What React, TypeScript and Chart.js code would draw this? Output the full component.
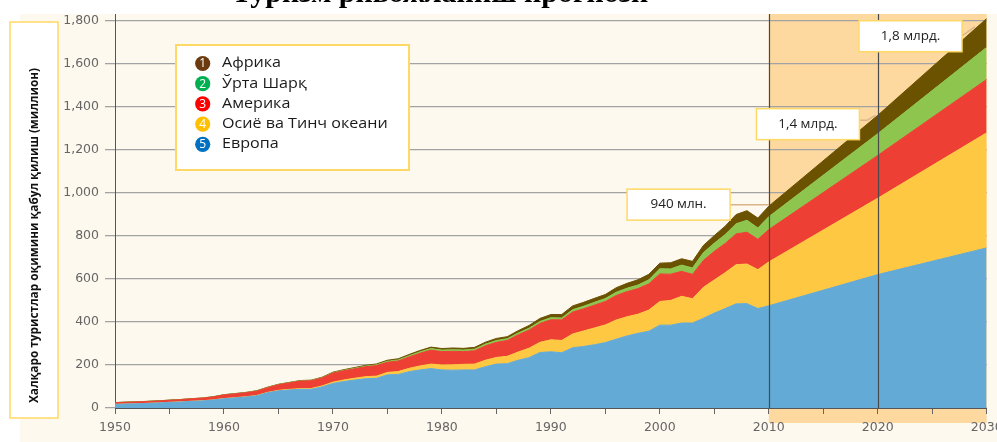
import { useEffect, useRef } from 'react';
import { Chart, registerables } from 'chart.js';

Chart.register(...registerables);

// ---------- data (millions of international tourist arrivals) ----------
const years = [
  1950, 1951, 1952, 1953, 1954, 1955, 1956, 1957, 1958, 1959,
  1960, 1961, 1962, 1963, 1964, 1965, 1966, 1967, 1968, 1969,
  1970, 1971, 1972, 1973, 1974, 1975, 1976, 1977, 1978, 1979,
  1980, 1981, 1982, 1983, 1984, 1985, 1986, 1987, 1988, 1989,
  1990, 1991, 1992, 1993, 1994, 1995, 1996, 1997, 1998, 1999,
  2000, 2001, 2002, 2003, 2004, 2005, 2006, 2007, 2008, 2009,
  2010, 2020, 2030,
];

const europe = [
  16.8, 18.5, 19.5, 21.5, 23.5, 26, 28, 31, 33, 37,
  43, 47, 51, 57, 71, 80, 84, 87, 87, 98,
  114, 123, 130, 136, 138, 154, 156, 169, 177, 183,
  177, 176, 177, 177, 192, 204, 206, 222, 234, 258,
  261, 257, 280, 286, 294, 304, 320, 335, 347, 357,
  385, 385, 395, 395, 417, 441, 462, 484, 485, 462,
  475, 620, 744,
];

const asiaPacific = [
  0.2, 0.2, 0.3, 0.3, 0.3, 0.4, 0.5, 0.5, 0.6, 0.7,
  0.9, 1.0, 1.2, 1.4, 1.6, 2.1, 2.6, 3.0, 3.6, 4.6,
  6.2, 7.2, 8.4, 9.5, 10.2, 11.5, 13.5, 15.5, 18.5, 21,
  23, 24.5, 26, 27, 30, 31, 34, 38, 44, 47,
  56, 57, 64, 72, 78, 82, 89, 89, 89, 98,
  110, 115, 124, 113, 144, 154, 167, 182, 184, 181,
  204, 355, 535,
];

const americas = [
  7.5, 8.0, 8.2, 8.6, 9.0, 9.5, 10.2, 11, 12, 13.5,
  16.7, 17.5, 18.5, 20, 22, 26, 30, 35, 36, 37,
  42, 43, 44, 46, 49, 47, 49, 53, 59, 65,
  62, 63, 59, 62, 67, 70, 74, 80, 84, 88,
  93, 96, 102, 103, 106, 109, 114, 117, 119, 122,
  128, 122, 116, 113, 125, 133, 136, 143, 148, 141,
  150, 199, 248,
];

const middleEast = [
  0.2, 0.2, 0.2, 0.2, 0.3, 0.3, 0.3, 0.3, 0.4, 0.5,
  0.6, 0.7, 0.8, 0.9, 1.0, 1.1, 1.2, 1.3, 1.4, 1.6,
  1.9, 2.2, 2.5, 3.0, 3.5, 4.5, 5.0, 5.5, 6.5, 7.0,
  7.1, 7.3, 7.5, 7.5, 8.0, 8.5, 8.0, 8.5, 9.0, 9.3,
  9.6, 8.5, 11, 12, 13, 13.7, 15, 16, 16.5, 19,
  24, 24.5, 29, 30, 36, 38, 41, 47, 55.6, 52.7,
  60, 101, 149,
];

const africa = [
  0.5, 0.5, 0.5, 0.5, 0.5, 0.5, 0.6, 0.6, 0.6, 0.7,
  0.8, 0.9, 0.9, 1.0, 1.0, 1.1, 1.2, 1.3, 1.5, 1.8,
  2.4, 2.8, 3.2, 3.6, 4.0, 5.0, 5.5, 6.0, 6.5, 7.0,
  7.2, 8.1, 7.6, 8.3, 9.0, 9.8, 9.5, 11, 12.5, 14,
  14.8, 16, 17.5, 18, 18.5, 18.9, 21, 22.5, 24.5, 25.5,
  26.2, 28.5, 29.5, 30.5, 33.5, 35.4, 39, 43, 44.4, 45.9,
  49, 85, 134,
];

const yTickValues = [0, 200, 400, 600, 800, 1000, 1200, 1400, 1600, 1800];
const xTickValues = [
  1950, 1955, 1960, 1965, 1970, 1975, 1980, 1985, 1990, 1995,
  2000, 2005, 2010, 2015, 2020, 2025, 2030,
];
const xLabelYears = [1950, 1960, 1970, 1980, 1990, 2000, 2010, 2020, 2030];

const seriesLabels = ['Европа', 'Осиё ва Тинч океани', 'Америка', 'Ўрта Шарқ', 'Африка'];
const legendLabels = ['Африка', 'Ўрта Шарқ', 'Америка', 'Осиё ва Тинч океани', 'Европа'];
const legendNumbers = ['1', '2', '3', '4', '5'];
const annotationLabels = ['940 млн.', '1,4 млрд.', '1,8 млрд.'];
const annotationYears = [2010, 2020, 2030];
const forecastStart = 2010;
const markerYears = [2010, 2020];
const yAxisTitle = 'Халқаро туристлар оқимини қабул қилиш (миллион)';
const topTitle = 'Туризм ривожланиш прогнози';

// ---------- styles ----------
const AREA_COLORS = ['#64aad6', '#fec843', '#ee3f35', '#8dc54e', '#6b5200'];
const LEGEND_DOT_COLORS = ['#6b3a0f', '#00b050', '#ff0000', '#ffc000', '#0070c0'];
const CREAM = '#fdf9ee';
const TAN = '#fdd9a0';
const BOX_BORDER = '#ffd966';
const TICK_FONT = { family: '"DejaVu Sans", sans-serif', size: 12.5 };

const CANVAS_W = 1020;
const CANVAS_H = 442;

function drawText(
  ctx: CanvasRenderingContext2D,
  text: string,
  x: number,
  y: number,
  font: string,
  color: string,
  align: CanvasTextAlign,
  sx = 1,
) {
  ctx.save();
  ctx.translate(x, y);
  ctx.scale(sx, 1);
  ctx.font = font;
  ctx.fillStyle = color;
  ctx.textAlign = align;
  ctx.textBaseline = 'middle';
  ctx.fillText(text, 0, 0);
  ctx.restore();
}

function box(ctx: CanvasRenderingContext2D, x: number, y: number, w: number, h: number, lw: number) {
  ctx.save();
  ctx.fillStyle = '#ffffff';
  ctx.fillRect(x, y, w, h);
  ctx.strokeStyle = BOX_BORDER;
  ctx.lineWidth = lw;
  ctx.strokeRect(x, y, w, h);
  ctx.restore();
}

const decorPlugin = {
  id: 'decor',
  beforeDraw(chart: any) {
    const { ctx, width, height, chartArea } = chart;
    const xs = chart.scales.x;
    ctx.save();
    ctx.fillStyle = '#ffffff';
    ctx.fillRect(0, 0, width, height);
    ctx.fillStyle = CREAM;
    ctx.fillRect(20, chartArea.top, width - 20, height - chartArea.top);
    const fx = xs.getPixelForValue(forecastStart);
    ctx.fillStyle = TAN;
    ctx.fillRect(fx, chartArea.top, chartArea.right - fx, chartArea.bottom + 15 - chartArea.top);
    ctx.fillStyle = '#000';
    ctx.font = 'bold 30px "Liberation Serif", serif';
    ctx.textAlign = 'center';
    ctx.textBaseline = 'alphabetic';
    ctx.fillText(topTitle, 440, 2);
    ctx.restore();
  },
  afterDatasetsDraw(chart: any) {
    const { ctx, chartArea } = chart;
    const xs = chart.scales.x;
    const ys = chart.scales.y;

    // forecast marker lines
    ctx.save();
    ctx.strokeStyle = '#4a4a4a';
    ctx.lineWidth = 1.2;
    markerYears.forEach((yr) => {
      const px = Math.round(xs.getPixelForValue(yr)) + 0.5;
      ctx.beginPath();
      ctx.moveTo(px, chartArea.top);
      ctx.lineTo(px, chartArea.bottom);
      ctx.stroke();
    });
    ctx.restore();

    // annotation boxes with connectors
    const boxOffsets = [
      { dx: -141.7, dy: -17, conn: [[-38.5, -1.5], [0, -1.5]] },
      { dx: -121.3, dy: -6.7, conn: [[-18.3, 5], [-10.6, 5], [-2.3, 0]] },
      { dx: -127.7, dy: 2.2, conn: [[-24.7, 16.5], [-23.4, 16.5], [-11.7, 8]] },
    ];
    annotationYears.forEach((yr, i) => {
      const idx = years.indexOf(yr);
      const total = europe[idx] + asiaPacific[idx] + americas[idx] + middleEast[idx] + africa[idx];
      const px = xs.getPixelForValue(yr);
      const py = ys.getPixelForValue(total);
      const o = boxOffsets[i];
      const bx = px + o.dx;
      const by = py + o.dy;
      const bw = 103;
      const bh = 31;
      ctx.save();
      ctx.strokeStyle = '#d9b48c';
      ctx.lineWidth = 1.5;
      ctx.beginPath();
      ctx.moveTo(bx + bw, py + o.conn[0][1]);
      o.conn.forEach(([cx, cy]) => ctx.lineTo(px + cx, py + cy));
      ctx.stroke();
      ctx.restore();
      box(ctx, bx, by, bw, bh, 1.5);
      drawText(ctx, annotationLabels[i], bx + bw / 2, by + bh / 2, '12px "Open Sans", sans-serif', '#222', 'center', 1.12);
    });

    // legend
    box(ctx, 176, 45, 233, 125, 2);
    legendLabels.forEach((lab, i) => {
      const cy = 63.5 + i * 20.2;
      ctx.save();
      ctx.fillStyle = LEGEND_DOT_COLORS[i];
      ctx.beginPath();
      ctx.arc(202.7, cy, 7.6, 0, Math.PI * 2);
      ctx.fill();
      ctx.restore();
      drawText(ctx, legendNumbers[i], 202.7, cy + 0.5, '12px "Open Sans", sans-serif', '#ffffff', 'center');
      drawText(ctx, lab, 222, cy, '14px "Open Sans", sans-serif', '#1a1a1a', 'left', 1.15);
    });

    // y-axis title
    box(ctx, 10, 22, 48, 396, 1.5);
    ctx.save();
    ctx.translate(34, 235.5);
    ctx.rotate(-Math.PI / 2);
    ctx.font = 'bold 13px "Open Sans", sans-serif';
    const w = ctx.measureText(yAxisTitle).width;
    const sx = 335 / w;
    ctx.scale(sx, 1);
    ctx.fillStyle = '#111';
    ctx.textAlign = 'center';
    ctx.textBaseline = 'middle';
    ctx.fillText(yAxisTitle, 0, 0);
    ctx.restore();
  },
};

const seriesData = [europe, asiaPacific, americas, middleEast, africa];

export default function App() {
  const ref = useRef<HTMLCanvasElement>(null);

  useEffect(() => {
    if (!ref.current) return;
    const chart = new Chart(ref.current, {
      type: 'line',
      data: {
        datasets: seriesData.map((arr, i) => ({
          label: seriesLabels[i],
          data: years.map((yr, j) => ({ x: yr, y: arr[j] })),
          backgroundColor: AREA_COLORS[i],
          borderColor: AREA_COLORS[i],
          borderWidth: 1,
          pointRadius: 0,
          tension: 0,
          fill: i === 0 ? 'origin' : '-1',
        })),
      },
      options: {
        responsive: false,
        animation: false,
        layout: { padding: { top: 14, right: CANVAS_W - 986.7, left: 0, bottom: 0 } },
        plugins: {
          legend: { display: false },
          tooltip: { enabled: false },
          title: { display: false },
        },
        scales: {
          x: {
            type: 'linear',
            min: 1950,
            max: 2030,
            afterBuildTicks: (s: any) => {
              s.ticks = xTickValues.map((v) => ({ value: v }));
            },
            afterFit: (s: any) => {
              s.height = 34;
            },
            ticks: {
              autoSkip: false,
              maxRotation: 0,
              padding: 6,
              color: '#666',
              font: TICK_FONT,
              callback: (v: any) => (xLabelYears.includes(Number(v)) ? String(v) : ''),
            },
            grid: {
              drawOnChartArea: false,
              drawTicks: true,
              tickLength: 6,
              color: '#666',
            },
            border: { color: '#555', width: 1 },
          },
          y: {
            stacked: true,
            min: 0,
            max: 1831,
            afterBuildTicks: (s: any) => {
              s.ticks = yTickValues.map((v) => ({ value: v }));
            },
            afterFit: (s: any) => {
              s.width = 115;
            },
            ticks: {
              padding: 6,
              color: '#666',
              font: TICK_FONT,
              callback: (v: any) => Number(v).toLocaleString('en-US'),
            },
            grid: {
              color: '#a3a3a3',
              lineWidth: 1.3,
              tickLength: 10,
              drawTicks: true,
            },
            border: { color: '#555', width: 1 },
          },
        },
      },
      plugins: [decorPlugin],
    } as any);
    return () => chart.destroy();
  }, []);

  return (
    <div
      style={{
        position: 'fixed',
        left: 0,
        top: 0,
        width: 997,
        height: 442,
        overflow: 'hidden',
        background: '#fff',
      }}
    >
      <canvas ref={ref} width={CANVAS_W} height={CANVAS_H} style={{ display: 'block' }} />
    </div>
  );
}
